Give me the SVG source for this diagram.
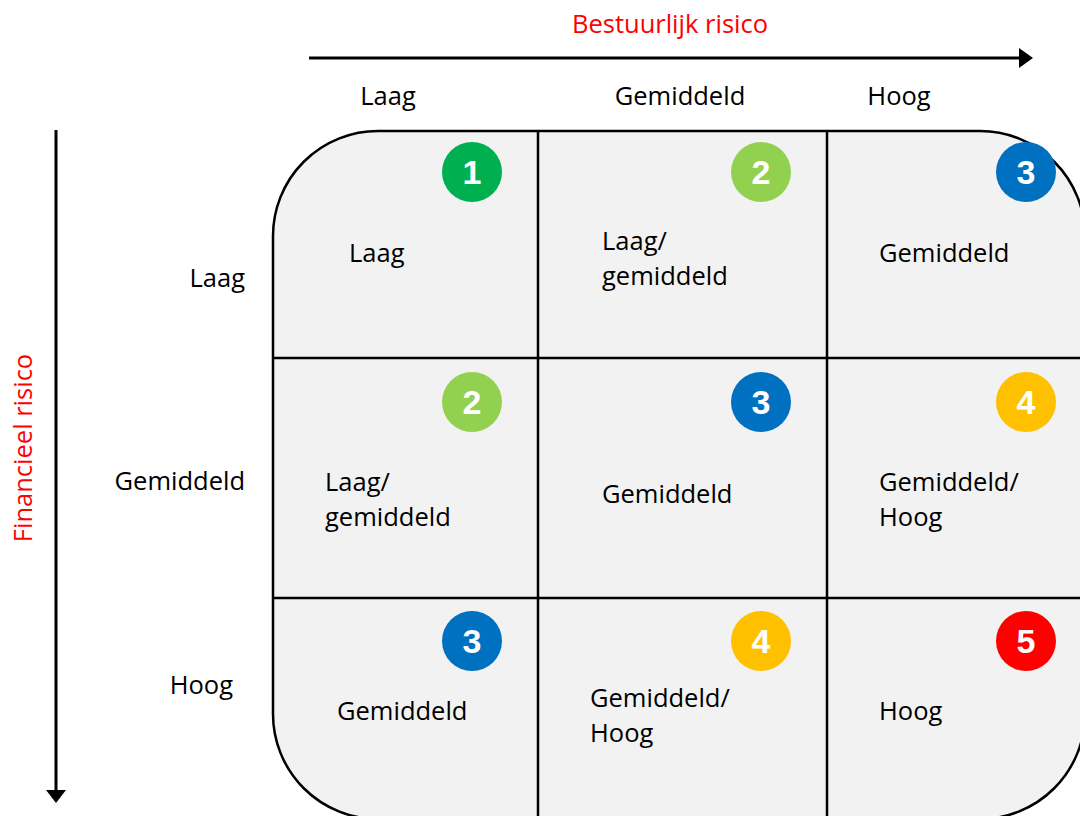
<svg xmlns="http://www.w3.org/2000/svg" width="1080" height="816" viewBox="0 0 1080 816">
<style>
  .lbl{font-family:"Open Sans","Liberation Sans",sans-serif;font-size:25.5px;fill:#000}
  .axis{font-family:"Open Sans","Liberation Sans",sans-serif;font-size:25.5px;fill:#FF0000}
  .num{font-family:"Liberation Sans",Arial,sans-serif;font-size:34px;font-weight:bold;fill:#fff;text-anchor:middle}
  .grid{stroke:#000;stroke-width:2.5;fill:none}
  .arrow{stroke:#000;stroke-width:3;fill:none}
</style>
<rect width="1080" height="816" fill="#fff"/>
<g id="matrix">
  <rect x="273" y="131" width="812" height="688" rx="105" ry="105" fill="#F2F2F2" stroke="#000" stroke-width="2.5"/>
  <line class="grid" x1="538" y1="131" x2="538" y2="816"/>
  <line class="grid" x1="827" y1="131" x2="827" y2="816"/>
  <line class="grid" x1="273" y1="358" x2="1080" y2="358"/>
  <line class="grid" x1="273" y1="598" x2="1080" y2="598"/>
</g>
<g id="connectors">
  <line class="arrow" x1="309" y1="58" x2="1020" y2="58"/>
  <polygon points="1019,48 1033,58 1019,68" fill="#000"/>
  <line class="arrow" x1="56" y1="130" x2="56" y2="792"/>
  <polygon points="46,790 66,790 56,803" fill="#000"/>
</g>
<g id="axis-x">
  <text class="axis" x="670" y="33" text-anchor="middle">Bestuurlijk risico</text>
  <text class="lbl" x="388" y="105" text-anchor="middle">Laag</text>
  <text class="lbl" x="680" y="105" text-anchor="middle">Gemiddeld</text>
  <text class="lbl" x="899" y="105" text-anchor="middle">Hoog</text>
</g>
<g id="axis-y">
  <text class="axis" transform="translate(32,448) rotate(-90)" text-anchor="middle">Financieel risico</text>
  <text class="lbl" x="245" y="287" text-anchor="end">Laag</text>
  <text class="lbl" x="245" y="490" text-anchor="end">Gemiddeld</text>
  <text class="lbl" x="233" y="694" text-anchor="end">Hoog</text>
</g>
<g id="cell-1-1">
  <circle cx="472" cy="172" r="30" fill="#00B050"/>
  <text class="num" x="472" y="184">1</text>
  <text class="lbl" x="349" y="262">Laag</text>
</g>
<g id="cell-1-2">
  <circle cx="761" cy="172" r="30" fill="#92D050"/>
  <text class="num" x="761" y="184">2</text>
  <text class="lbl" x="602" y="250">Laag/</text>
  <text class="lbl" x="602" y="285">gemiddeld</text>
</g>
<g id="cell-1-3">
  <circle cx="1026" cy="172" r="30" fill="#0070C0"/>
  <text class="num" x="1026" y="184">3</text>
  <text class="lbl" x="879" y="262">Gemiddeld</text>
</g>
<g id="cell-2-1">
  <circle cx="472" cy="402" r="30" fill="#92D050"/>
  <text class="num" x="472" y="414">2</text>
  <text class="lbl" x="325" y="491">Laag/</text>
  <text class="lbl" x="325" y="526">gemiddeld</text>
</g>
<g id="cell-2-2">
  <circle cx="761" cy="402" r="30" fill="#0070C0"/>
  <text class="num" x="761" y="414">3</text>
  <text class="lbl" x="602" y="503">Gemiddeld</text>
</g>
<g id="cell-2-3">
  <circle cx="1026" cy="402" r="30" fill="#FFC000"/>
  <text class="num" x="1026" y="414">4</text>
  <text class="lbl" x="879" y="491">Gemiddeld/</text>
  <text class="lbl" x="879" y="526">Hoog</text>
</g>
<g id="cell-3-1">
  <circle cx="472" cy="641" r="30" fill="#0070C0"/>
  <text class="num" x="472" y="653">3</text>
  <text class="lbl" x="337" y="720">Gemiddeld</text>
</g>
<g id="cell-3-2">
  <circle cx="761" cy="641" r="30" fill="#FFC000"/>
  <text class="num" x="761" y="653">4</text>
  <text class="lbl" x="590" y="707">Gemiddeld/</text>
  <text class="lbl" x="590" y="742">Hoog</text>
</g>
<g id="cell-3-3">
  <circle cx="1026" cy="641" r="30" fill="#FF0000"/>
  <text class="num" x="1026" y="653">5</text>
  <text class="lbl" x="879" y="720">Hoog</text>
</g>
</svg>
